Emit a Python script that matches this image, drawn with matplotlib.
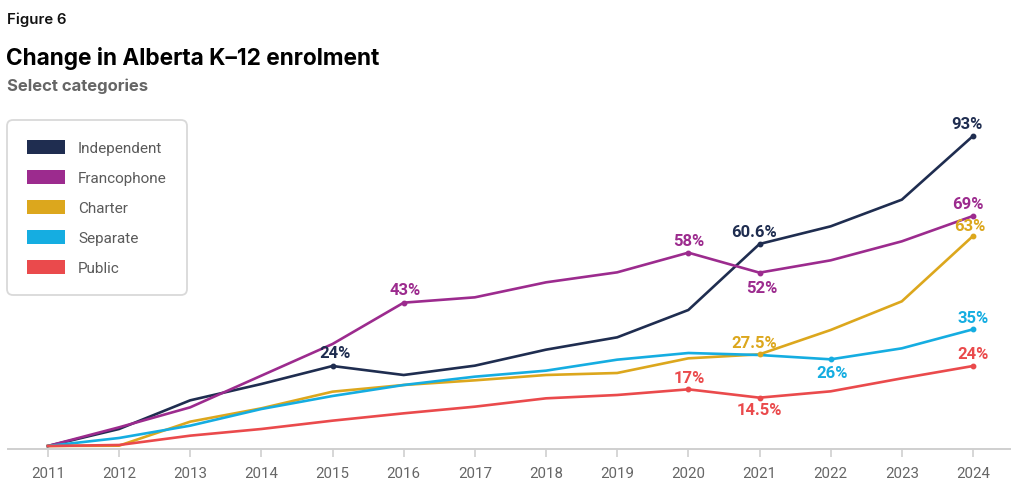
import matplotlib.pyplot as plt
from matplotlib.patches import Patch

# datos (% de cambio desde 2011)
years = list(range(2011, 2025))
independent = [0, 5.1, 13.7, 18.6, 24, 21.3, 24.1, 28.9, 32.6, 40.8, 60.6, 65.9, 73.9, 93]
francophone = [0, 5.6, 11.6, 21.1, 30.6, 43, 44.6, 49.1, 52.1, 58, 52, 55.7, 61.4, 69]
charter = [0, 0.1, 7.3, 11.3, 16.3, 18.3, 19.7, 21.3, 21.9, 26.3, 27.5, 34.8, 43.4, 63]
separate = [0, 2.4, 6.1, 11.1, 15.0, 18.3, 20.8, 22.6, 25.9, 27.9, 27.3, 26, 29.3, 35]
public = [0, 0.3, 3.1, 5.1, 7.6, 9.8, 11.8, 14.3, 15.3, 17, 14.5, 16.4, 20.3, 24]

names = ["Independent", "Francophone", "Charter", "Separate", "Public"]
colors = ["#1f2d50", "#9c2b8e", "#dca71d", "#15ade1", "#ea4a4c"]
series = [independent, francophone, charter, separate, public]

# etiquetas: (serie, anio, texto, dx, dy) desplazamiento en pixeles
labels = [
    (0, 2015, "24%", 3, 13),
    (0, 2021, "60.6%", -5, 12),
    (0, 2024, "93%", -6, 12),
    (1, 2016, "43%", 2, 13),
    (1, 2020, "58%", 0, 12),
    (1, 2021, "52%", 2, -15),
    (1, 2024, "69%", -5, 12),
    (2, 2021, "27.5%", -5, 12),
    (2, 2024, "63%", -3, 10),
    (3, 2022, "26%", 1, -13),
    (3, 2024, "35%", 0, 12),
    (4, 2020, "17%", 1, 12),
    (4, 2021, "14.5%", 0, -12),
    (4, 2024, "24%", 0, 12),
]

plt.rcParams['font.family'] = ['Roboto', 'DejaVu Sans']

fig = plt.figure(figsize=(10.24, 5.02), dpi=100)
ax = fig.add_axes([8 / 1024, 52 / 502, 1002 / 1024, 330 / 502])

for vals, c in zip(series, colors):
    ax.plot(years, vals, color=c, lw=1.9, solid_joinstyle='round', zorder=3)

for s, yr, txt, dx, dy in labels:
    v = series[s][years.index(yr)]
    ax.plot(yr, v, 'o', color=colors[s], ms=3.2, zorder=4)
    ax.annotate(txt, (yr, v), xytext=(dx, dy), textcoords='offset pixels',
                ha='center', va='center', color=colors[s], fontsize=12,
                fontweight='bold', zorder=5)

ax.set_xlim(2010.44, 2024.52)
ax.set_ylim(-0.9, 98.1)
ax.set_xticks(years)
ax.set_yticks([])
for sp in ['top', 'right', 'left']:
    ax.spines[sp].set_visible(False)
ax.spines['bottom'].set_color('#cfcfcf')
ax.spines['bottom'].set_linewidth(1.4)
ax.tick_params(axis='x', colors='#cfcfcf', length=6, width=1.2, pad=6,
               labelcolor='#666666', labelsize=10.8)

# leyenda
handles = [Patch(facecolor=c, edgecolor='none') for c in colors]
leg = fig.legend(handles, names, loc='upper left',
                 bbox_to_anchor=(7 / 1024, 1 - 121 / 502), frameon=True,
                 fontsize=11, handlelength=2.5, handleheight=1.0,
                 handletextpad=0.85, labelspacing=0.98, borderpad=1.3,
                 borderaxespad=0, fancybox=True)
leg.get_frame().set_edgecolor('#d0d0d0')
leg.get_frame().set_linewidth(1.3)
leg.get_frame().set_boxstyle('round,pad=0,rounding_size=0.4')
for t in leg.get_texts():
    t.set_color('#5a5a5a')

# titulos
fig.text(7 / 1024, 1 - 20 / 502, "Figure 6", fontsize=10.8, fontweight='semibold',
         color='#111111', va='center', family=['Inter', 'DejaVu Sans'])
fig.text(6 / 1024, 1 - 58 / 502, "Change in Alberta K–12 enrolment", fontsize=16.3,
         fontweight='bold', color='#000000', va='center', family=['Inter', 'DejaVu Sans'])
fig.text(7 / 1024, 1 - 86 / 502, "Select categories", fontsize=12,
         fontweight='bold', color='#666666', va='center', family=['Inter', 'DejaVu Sans'])

fig.savefig("out.png", dpi=100)
